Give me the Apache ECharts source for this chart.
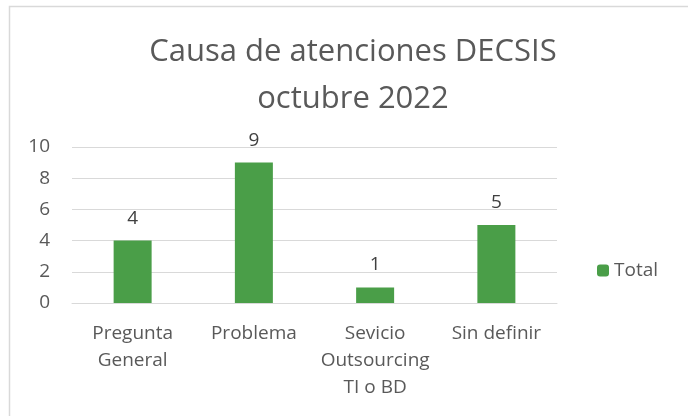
<!DOCTYPE html>
<html>
<head>
<meta charset="utf-8">
<script src="https://cdn.jsdelivr.net/npm/echarts@6/dist/echarts.min.js"></script>
<style>
  html, body { margin: 0; padding: 0; background: #fff; }
  #main { width: 688px; height: 416px; }
</style>
</head>
<body>
<div id="main"></div>
<script>
// datos del grafico
var categorias = ['Pregunta\nGeneral', 'Problema', 'Sevicio\nOutsourcing\nTI o BD', 'Sin definir'];
var totales = [4, 9, 1, 5];
var nombreSerie = 'Total';

var fuente = '"Open Sans", "Noto Sans", sans-serif';
var gris = '#595959';

var chart = echarts.init(document.getElementById('main'));
chart.setOption({
	animation: false,
	textStyle: { fontFamily: fuente },
	title: {
		text: 'Causa de atenciones DECSIS\noctubre 2022',
		left: 348,
		textAlign: 'center',
		top: 24,
		textStyle: { fontSize: 31, fontWeight: 'normal', color: gris, lineHeight: 47, fontFamily: fuente }
	},
	graphic: [{
		type: 'rect',
		shape: { x: 9.5, y: 6.5, width: 700, height: 440 },
		style: { fill: 'none', stroke: '#d9d9d9', lineWidth: 1.5 },
		silent: true
	}],
	legend: {
		data: [nombreSerie],
		orient: 'vertical',
		left: 592,
		top: 256,
		itemWidth: 12,
		itemHeight: 12,
		itemGap: 6,
		textStyle: { fontSize: 19, color: gris, fontFamily: fuente }
	},
	grid: { left: 72, right: 131, top: 147, bottom: 113 },
	xAxis: {
		type: 'category',
		data: categorias,
		axisLine: { lineStyle: { color: '#d9d9d9', width: 1 } },
		axisTick: { show: false },
		axisLabel: { color: gris, fontSize: 19, lineHeight: 27, margin: 17, interval: 0, fontFamily: fuente }
	},
	yAxis: {
		type: 'value',
		min: 0,
		max: 10,
		interval: 2,
		axisLine: { show: false },
		axisTick: { show: false },
		splitLine: { lineStyle: { color: '#d9d9d9', width: 1 } },
		axisLabel: { color: gris, fontSize: 19, margin: 22, fontFamily: fuente }
	},
	series: [{
		name: nombreSerie,
		type: 'bar',
		data: totales,
		barWidth: 38,
		itemStyle: { color: '#4a9e48' },
		label: { show: true, position: 'top', distance: 13, color: '#404040', fontSize: 19, fontFamily: fuente }
	}]
});
</script>
</body>
</html>
